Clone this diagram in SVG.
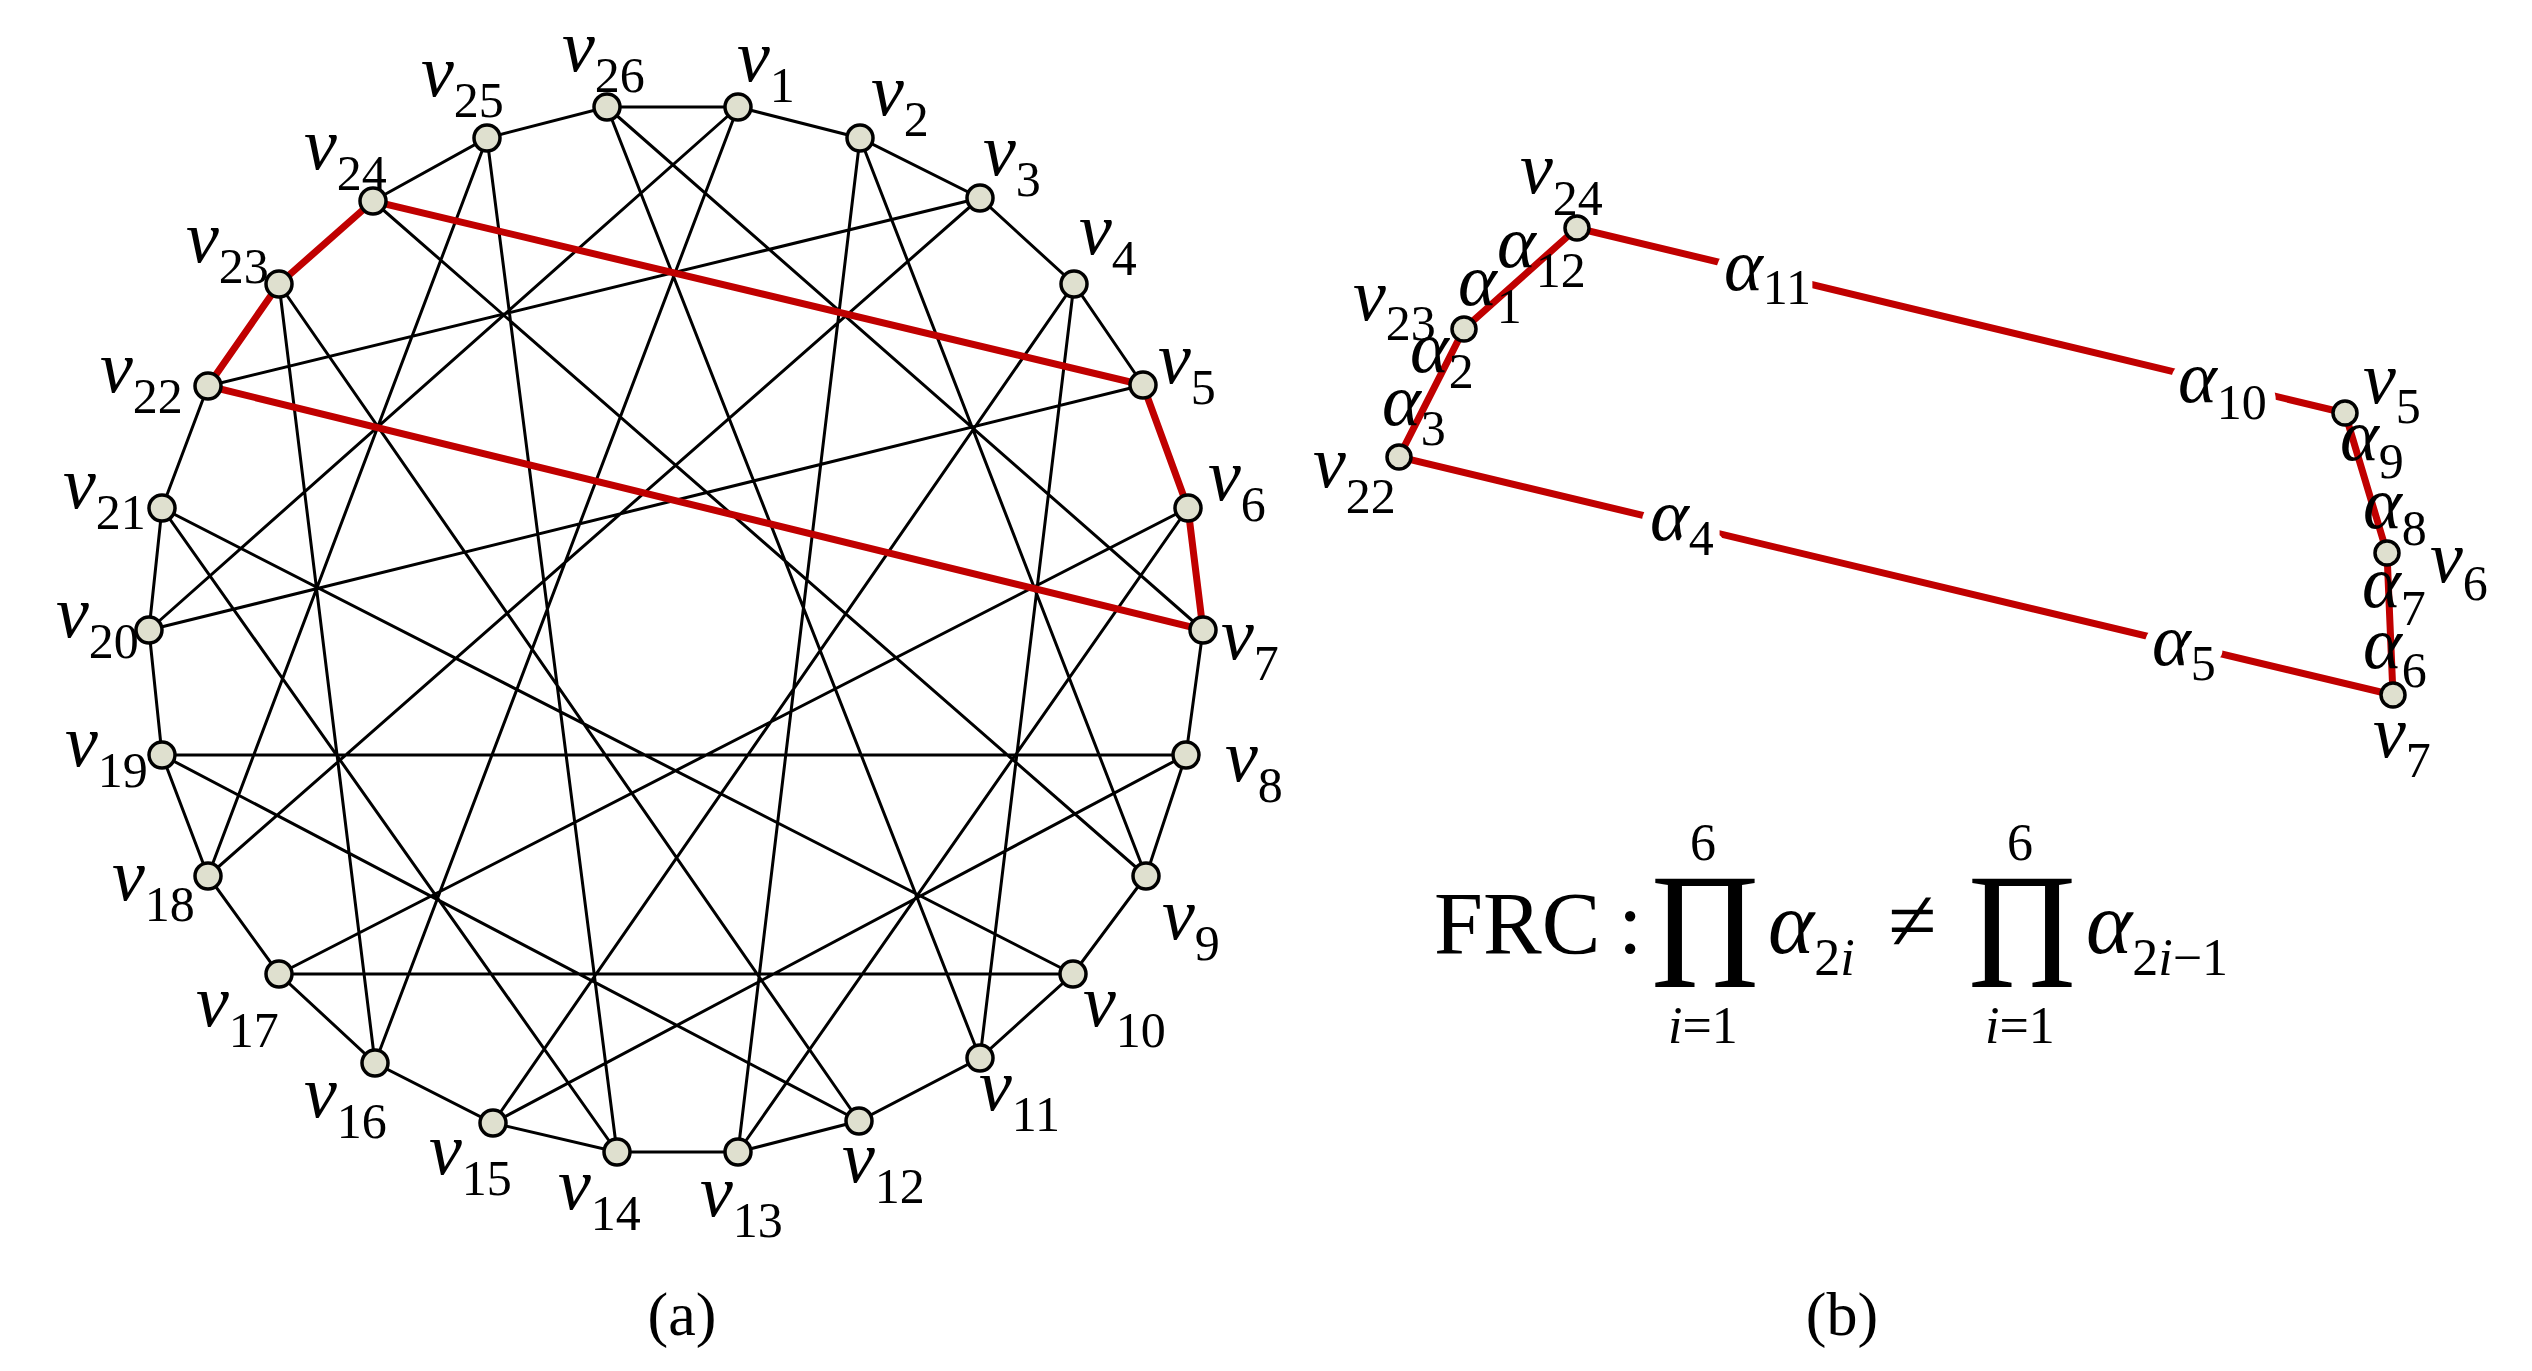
<svg xmlns="http://www.w3.org/2000/svg" width="2532" height="1371" viewBox="0 0 2532 1371">
<style>
.e{stroke:#000;stroke-width:3;fill:none}
.r{stroke:#c00000;stroke-width:7;fill:none;stroke-linecap:round}
.n{fill:#dfe0cf;stroke:#000;stroke-width:3.5}
text{font-family:"Liberation Serif","DejaVu Serif",serif;fill:#000}
.lv{font-size:74px;font-style:italic}
.ls{font-size:50px;font-style:normal}
.la{font-size:74px;font-style:italic}
.gap{stroke:#fff;stroke-width:22;paint-order:stroke;stroke-linejoin:round}
.cap{font-size:62px}
.big{font-size:88px}
.sm{font-size:52px}
</style>
<rect width="2532" height="1371" fill="#fff"/>
<g id="connectors">
<path class="e" d="M738,107L860,138L980,198L1074,284L1143,385M1203,630L1186,755L1146,876L1073,974L980,1058L859,1121L738,1152L617,1152L493,1123L375,1063L279,974L208,876L162,755L149,630L162,508L208,386M373,201L487,138L607,107L738,107"/>
<path class="e" d="M208,386L980,198M149,630L1143,385M162,755L1186,755M279,974L1073,974M279,284L375,1063M1074,284L980,1058M279,284L859,1121M1074,284L493,1123M487,138L208,876M860,138L1146,876M487,138L617,1152M860,138L738,1152M373,201L1146,876M980,198L208,876M738,1152L1188,508M617,1152L162,508M607,107L980,1058M738,107L375,1063M607,107L1203,630M738,107L149,630M1188,508L279,974M162,508L1073,974M1186,755L493,1123M162,755L859,1121"/>
<path class="r" d="M208,386L279,284L373,201L1143,385L1188,508L1203,630L208,386"/>
<path class="r" d="M1577,228L1464,329L1399,457L2393,695L2387,553L2345,413Z"/>
</g>
<g id="nodes-a">
<g id="v1"><circle class="n" cx="738" cy="107" r="13"/><text class="lv" x="737" y="81">v<tspan class="ls" dy="21">1</tspan></text></g>
<g id="v2"><circle class="n" cx="860" cy="138" r="13"/><text class="lv" x="871" y="115">v<tspan class="ls" dy="21">2</tspan></text></g>
<g id="v3"><circle class="n" cx="980" cy="198" r="13"/><text class="lv" x="983" y="175">v<tspan class="ls" dy="21">3</tspan></text></g>
<g id="v4"><circle class="n" cx="1074" cy="284" r="13"/><text class="lv" x="1079" y="254">v<tspan class="ls" dy="21">4</tspan></text></g>
<g id="v5"><circle class="n" cx="1143" cy="385" r="13"/><text class="lv" x="1158" y="383">v<tspan class="ls" dy="21">5</tspan></text></g>
<g id="v6"><circle class="n" cx="1188" cy="508" r="13"/><text class="lv" x="1208" y="500">v<tspan class="ls" dy="21">6</tspan></text></g>
<g id="v7"><circle class="n" cx="1203" cy="630" r="13"/><text class="lv" x="1221" y="659">v<tspan class="ls" dy="21">7</tspan></text></g>
<g id="v8"><circle class="n" cx="1186" cy="755" r="13"/><text class="lv" x="1225" y="781">v<tspan class="ls" dy="21">8</tspan></text></g>
<g id="v9"><circle class="n" cx="1146" cy="876" r="13"/><text class="lv" x="1162" y="939">v<tspan class="ls" dy="21">9</tspan></text></g>
<g id="v10"><circle class="n" cx="1073" cy="974" r="13"/><text class="lv" x="1083" y="1026">v<tspan class="ls" dy="21">10</tspan></text></g>
<g id="v11"><circle class="n" cx="980" cy="1058" r="13"/><text class="lv" x="979" y="1110">v<tspan class="ls" dy="21">11</tspan></text></g>
<g id="v12"><circle class="n" cx="859" cy="1121" r="13"/><text class="lv" x="842" y="1182">v<tspan class="ls" dy="21">12</tspan></text></g>
<g id="v13"><circle class="n" cx="738" cy="1152" r="13"/><text class="lv" x="700" y="1216">v<tspan class="ls" dy="21">13</tspan></text></g>
<g id="v14"><circle class="n" cx="617" cy="1152" r="13"/><text class="lv" x="558" y="1209">v<tspan class="ls" dy="21">14</tspan></text></g>
<g id="v15"><circle class="n" cx="493" cy="1123" r="13"/><text class="lv" x="429" y="1174">v<tspan class="ls" dy="21">15</tspan></text></g>
<g id="v16"><circle class="n" cx="375" cy="1063" r="13"/><text class="lv" x="304" y="1117">v<tspan class="ls" dy="21">16</tspan></text></g>
<g id="v17"><circle class="n" cx="279" cy="974" r="13"/><text class="lv" x="196" y="1026">v<tspan class="ls" dy="21">17</tspan></text></g>
<g id="v18"><circle class="n" cx="208" cy="876" r="13"/><text class="lv" x="112" y="900">v<tspan class="ls" dy="21">18</tspan></text></g>
<g id="v19"><circle class="n" cx="162" cy="755" r="13"/><text class="lv" x="65" y="766">v<tspan class="ls" dy="21">19</tspan></text></g>
<g id="v20"><circle class="n" cx="149" cy="630" r="13"/><text class="lv" x="56" y="637">v<tspan class="ls" dy="21">20</tspan></text></g>
<g id="v21"><circle class="n" cx="162" cy="508" r="13"/><text class="lv" x="63" y="508">v<tspan class="ls" dy="21">21</tspan></text></g>
<g id="v22"><circle class="n" cx="208" cy="386" r="13"/><text class="lv" x="100" y="392">v<tspan class="ls" dy="21">22</tspan></text></g>
<g id="v23"><circle class="n" cx="279" cy="284" r="13"/><text class="lv" x="186" y="262">v<tspan class="ls" dy="21">23</tspan></text></g>
<g id="v24"><circle class="n" cx="373" cy="201" r="13"/><text class="lv" x="304" y="169">v<tspan class="ls" dy="21">24</tspan></text></g>
<g id="v25"><circle class="n" cx="487" cy="138" r="13"/><text class="lv" x="421" y="96">v<tspan class="ls" dy="21">25</tspan></text></g>
<g id="v26"><circle class="n" cx="607" cy="107" r="13"/><text class="lv" x="562" y="71">v<tspan class="ls" dy="21">26</tspan></text></g>
</g>
<text class="cap" x="682" y="1335" text-anchor="middle">(a)</text>
<g id="labels-b">
<text class="la gap" x="1724" y="290">α<tspan class="ls" dy="14">11</tspan></text>
<text class="la gap" x="2178" y="402">α<tspan class="ls" dy="17">10</tspan></text>
<text class="la gap" x="1650" y="540">α<tspan class="ls" dy="15">4</tspan></text>
<text class="la gap" x="2152" y="665">α<tspan class="ls" dy="15">5</tspan></text>
<text class="la" x="1497" y="267">α<tspan class="ls" dy="20">12</tspan></text>
<text class="la" x="1458" y="305">α<tspan class="ls" dy="18">1</tspan></text>
<text class="la" x="1410" y="372">α<tspan class="ls" dy="16">2</tspan></text>
<text class="la" x="1382" y="425">α<tspan class="ls" dy="20">3</tspan></text>
<text class="la" x="2340" y="460">α<tspan class="ls" dy="18">9</tspan></text>
<text class="la" x="2363" y="528">α<tspan class="ls" dy="17">8</tspan></text>
<text class="la" x="2362" y="607">α<tspan class="ls" dy="18">7</tspan></text>
<text class="la" x="2363" y="668">α<tspan class="ls" dy="19">6</tspan></text>
</g>
<g id="nodes-b">
<g id="b-v24"><circle class="n" cx="1577" cy="228" r="12"/><text class="lv" x="1520" y="193">v<tspan class="ls" dy="22">24</tspan></text></g>
<g id="b-v23"><circle class="n" cx="1464" cy="329" r="12"/><text class="lv" x="1353" y="320">v<tspan class="ls" dy="20">23</tspan></text></g>
<g id="b-v22"><circle class="n" cx="1399" cy="457" r="12"/><text class="lv" x="1313" y="487">v<tspan class="ls" dy="26">22</tspan></text></g>
<g id="b-v5"><circle class="n" cx="2345" cy="413" r="12"/><text class="lv" x="2363" y="403">v<tspan class="ls" dy="20">5</tspan></text></g>
<g id="b-v6"><circle class="n" cx="2387" cy="553" r="12"/><text class="lv" x="2430" y="582">v<tspan class="ls" dy="18">6</tspan></text></g>
<g id="b-v7"><circle class="n" cx="2393" cy="695" r="12"/><text class="lv" x="2373" y="757">v<tspan class="ls" dy="20">7</tspan></text></g>
</g>
<g id="formula">
<text class="big" x="1434" y="953">FRC</text>
<text class="big" x="1618" y="953">:</text>
<text x="1651" y="987" font-size="165" textLength="108" lengthAdjust="spacingAndGlyphs">Π</text>
<text class="sm" x="1690" y="860">6</text>
<text class="sm" x="1668" y="1043"><tspan font-style="italic">i</tspan>=1</text>
<text class="big" x="1768" y="953" font-style="italic">α<tspan class="sm" font-style="normal" dy="22">2</tspan><tspan class="sm">i</tspan></text>
<text class="big" x="1888" y="950">≠</text>
<text x="1968" y="987" font-size="165" textLength="108" lengthAdjust="spacingAndGlyphs">Π</text>
<text class="sm" x="2007" y="860">6</text>
<text class="sm" x="1985" y="1043"><tspan font-style="italic">i</tspan>=1</text>
<text class="big" x="2086" y="953" font-style="italic">α<tspan class="sm" font-style="normal" dy="22">2</tspan><tspan class="sm">i</tspan><tspan class="sm" font-style="normal">−1</tspan></text>
</g>
<text class="cap" x="1842" y="1335" text-anchor="middle">(b)</text>
</svg>
